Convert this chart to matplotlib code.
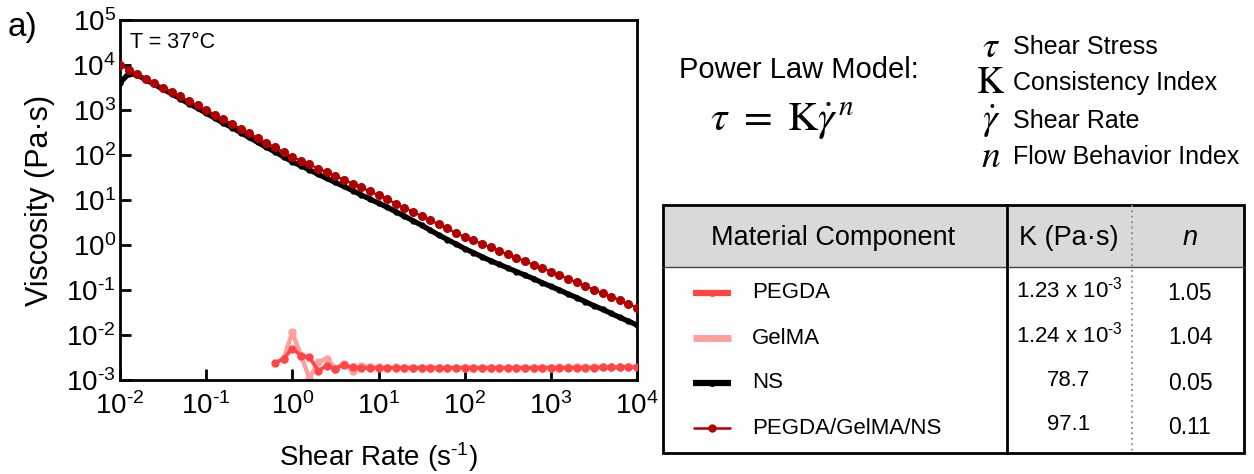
import numpy as np
import matplotlib
matplotlib.use('Agg')
import matplotlib.pyplot as plt
from matplotlib.patches import Rectangle
from matplotlib.ticker import NullLocator

plt.rcParams['font.family'] = ['Liberation Sans', 'DejaVu Sans']
plt.rcParams['mathtext.fontset'] = 'custom'
plt.rcParams['mathtext.rm'] = 'Liberation Sans'
plt.rcParams['mathtext.it'] = 'Liberation Sans:italic'
plt.rcParams['mathtext.bf'] = 'Liberation Sans:bold'

# ---------------- data ----------------
shear_rate = [0.01, 0.0126, 0.0158, 0.02, 0.0251, 0.0316, 0.0398, 0.0501, 0.0631, 0.0794,
              0.1, 0.126, 0.158, 0.2, 0.251, 0.316, 0.398, 0.501, 0.631, 0.794,
              1.0, 1.26, 1.58, 2.0, 2.51, 3.16, 3.98, 5.01, 6.31, 7.94,
              10.0, 12.6, 15.8, 20.0, 25.1, 31.6, 39.8, 50.1, 63.1, 79.4,
              100.0, 126, 158, 200, 251, 316, 398, 501, 631, 794,
              1000, 1260, 1580, 2000, 2510, 3160, 3980, 5010, 6310, 7940, 10000]

ns_visc = [3980, 6460, 6030, 4680, 3720, 2880, 2290, 1780, 1380, 1100,
           851, 661, 513, 407, 316, 245, 191, 148, 117, 91.2,
           70.8, 57.5, 46.8, 37.2, 30.2, 24.5, 20.0, 16.2, 12.9, 10.5,
           8.51, 6.92, 5.50, 4.37, 3.47, 2.75, 2.14, 1.66, 1.32, 1.05,
           0.832, 0.676, 0.550, 0.447, 0.372, 0.309, 0.257, 0.214, 0.178, 0.145,
           0.120, 0.100, 0.0813, 0.0676, 0.0550, 0.0447, 0.0372, 0.0302, 0.0245, 0.0204, 0.0166]

comp_visc = [10000, 7940, 6310, 5010, 3980, 3160, 2510, 2000, 1580, 1260,
             1000, 794, 617, 490, 380, 302, 240, 186, 148, 115,
             91.2, 74.1, 61.7, 50.1, 41.7, 33.9, 28.2, 22.9, 19.1, 15.5,
             12.9, 10.5, 8.32, 6.76, 5.50, 4.37, 3.55, 2.88, 2.34, 1.86,
             1.51, 1.26, 1.07, 0.891, 0.741, 0.617, 0.525, 0.437, 0.363, 0.309,
             0.257, 0.214, 0.178, 0.148, 0.123, 0.102, 0.0851, 0.0708, 0.0589, 0.0490, 0.0407]

pegda_rate = shear_rate[18:]
pegda_visc = [2.4e-3, 3.0e-3, 5.0e-3, 3.5e-3, 3.2e-3, 1.6e-3, 2.1e-3, 1.8e-3, 2.2e-3, 1.9e-3,
              1.86e-3, 1.85e-3, 1.86e-3, 1.85e-3, 1.86e-3, 1.85e-3, 1.85e-3, 1.86e-3, 1.85e-3, 1.85e-3,
              1.85e-3, 1.86e-3, 1.85e-3, 1.85e-3, 1.85e-3, 1.86e-3, 1.85e-3, 1.85e-3, 1.86e-3, 1.85e-3,
              1.86e-3, 1.86e-3, 1.87e-3, 1.87e-3, 1.88e-3, 1.88e-3, 1.88e-3, 1.89e-3, 1.90e-3, 1.90e-3,
              1.91e-3, 1.92e-3, 1.93e-3]

gelma_rate = shear_rate[19:]
gelma_visc = [3.0e-3, 1.15e-2, 3.5e-3, 1.1e-3, 2.5e-3, 3.0e-3, 1.8e-3, 2.3e-3, 1.6e-3, 2.1e-3,
              1.9e-3, 1.9e-3, 1.88e-3, 1.9e-3, 1.88e-3, 1.88e-3, 1.87e-3, 1.87e-3, 1.87e-3, 1.87e-3,
              1.87e-3, 1.87e-3, 1.87e-3, 1.87e-3, 1.87e-3, 1.87e-3, 1.88e-3, 1.88e-3, 1.88e-3, 1.88e-3,
              1.89e-3, 1.89e-3, 1.90e-3, 1.90e-3, 1.91e-3, 1.91e-3, 1.92e-3, 1.93e-3, 1.93e-3, 1.94e-3,
              1.95e-3, 1.95e-3]

x_ticks = [1e-2, 1e-1, 1e0, 1e1, 1e2, 1e3, 1e4]
x_ticklabels = [r'$10^{\text{-}2}$', r'$10^{\text{-}1}$', r'$10^{0}$', r'$10^{1}$',
                r'$10^{2}$', r'$10^{3}$', r'$10^{4}$']
y_ticks = [1e-3, 1e-2, 1e-1, 1e0, 1e1, 1e2, 1e3, 1e4, 1e5]
y_ticklabels = [r'$10^{\text{-}3}$', r'$10^{\text{-}2}$', r'$10^{\text{-}1}$', r'$10^{0}$',
                r'$10^{1}$', r'$10^{2}$', r'$10^{3}$', r'$10^{4}$', r'$10^{5}$']

materials = ['PEGDA', 'GelMA', 'NS', 'PEGDA/GelMA/NS']
k_values = [r'1.23 x 10$^{\text{-}3}$', r'1.24 x 10$^{\text{-}3}$', '78.7', '97.1']
n_values = ['1.05', '1.04', '0.05', '0.11']

c_pegda = '#ff4545'
c_gelma = '#ff9f9f'
c_ns = '#000000'
c_comp = '#b00000'

# ---------------- figure ----------------
W, H = 1254, 474
fig = plt.figure(figsize=(W / 100, H / 100), dpi=100)
ax = fig.add_axes([120 / W, 1 - 380 / H, 517 / W, 360 / H])

ax.plot(gelma_rate, gelma_visc, '-o', color=c_gelma, lw=3.2, ms=5, mec=c_gelma, zorder=2)
ax.plot(pegda_rate, pegda_visc, '-o', color=c_pegda, lw=2.6, ms=5, mec=c_pegda, zorder=3)
ax.plot(shear_rate, ns_visc, '-o', color=c_ns, lw=3.8, ms=3.5, zorder=4)
ax.plot(shear_rate, comp_visc, '-o', color=c_comp, lw=1.6, ms=5.5, mec=c_comp, zorder=5)

ax.set_xscale('log')
ax.set_yscale('log')
ax.set_xlim(1e-2, 1e4)
ax.set_ylim(1e-3, 1e5)
ax.set_xticks(x_ticks)
ax.set_xticklabels(x_ticklabels)
ax.set_yticks(y_ticks)
ax.set_yticklabels(y_ticklabels)
ax.xaxis.set_minor_locator(NullLocator())
ax.yaxis.set_minor_locator(NullLocator())
ax.tick_params(direction='in', length=8, width=2, labelsize=20)
ax.tick_params(axis='x', pad=8.5)
ax.tick_params(axis='y', pad=3)
for s in ax.spines.values():
    s.set_linewidth(2)
ax.set_xlabel(r'Shear Rate (s$^{\text{-}1}$)', fontsize=20, labelpad=15)
ax.set_ylabel('Viscosity (Pa·s)', fontsize=22, labelpad=8)

# ---------------- overlay (text + table) ----------------
ov = fig.add_axes([0, 0, 1, 1], zorder=10)
ov.set_xlim(0, W)
ov.set_ylim(H, 0)
ov.axis('off')
ov.patch.set_alpha(0)

ov.text(8, 27, 'a)', fontsize=24, ha='left', va='center')
ov.text(130, 42, 'T = 37°C', fontsize=15.5, ha='left', va='center')

ov.text(679, 70, 'Power Law Model:', fontsize=21, ha='left', va='center')
ov.text(710, 121, r'$\tau\ =\ \mathrm{K}\dot{\gamma}^{\,n}$', fontsize=30,
        math_fontfamily='stix', ha='left', va='center')

sym = [r'$\tau$', r'$\mathrm{K}$', r'$\dot{\gamma}$', r'$n$']
desc = ['Shear Stress', 'Consistency Index', 'Shear Rate', 'Flow Behavior Index']
sym_y = [47, 83, 121, 157]
for s_, d_, y_ in zip(sym, desc, sym_y):
    ov.text(991, y_, s_, fontsize=27, math_fontfamily='stix', ha='center', va='center')
    ov.text(1013, y_, d_, fontsize=18, ha='left', va='center')

# table
tx0, tx1, ty0, ty1 = 663, 1244, 205, 453
ov.add_patch(Rectangle((tx0, ty0), tx1 - tx0, 267 - ty0, facecolor='#d9d9d9', edgecolor='none'))
ov.plot([tx0, tx1], [267, 267], color='#444444', lw=1.0)
ov.plot([1007, 1007], [ty0, ty1], color='black', lw=2)
ov.plot([1132, 1132], [ty0, ty1], color='#888888', lw=1.3, ls=(0, (1, 2)))
ov.add_patch(Rectangle((tx0, ty0), tx1 - tx0, ty1 - ty0, facecolor='none', edgecolor='black', lw=2))

ov.text(833, 238, 'Material Component', fontsize=19.5, ha='center', va='center')
ov.text(1069, 238, 'K (Pa·s)', fontsize=19.5, ha='center', va='center')
ov.text(1190, 238, 'n', fontsize=19.5, style='italic', ha='center', va='center')

row_y = [293, 338, 383, 428]
k_y = [290, 335, 380, 424]
styles = [(c_pegda, 4.5, 4), (c_gelma, 5, 4), (c_ns, 4.5, 4), (c_comp, 1.8, 5)]
for name, kv, nv, ry, ky, (col, lw, ms) in zip(materials, k_values, n_values, row_y, k_y, styles):
    ov.plot([693, 731], [ry, ry], color=col, lw=lw, solid_capstyle='butt')
    ov.plot([712], [ry], 'o', color=col, ms=ms)
    ov.text(752, ry, name, fontsize=16, ha='left', va='center')
    ov.text(1069, ky, kv, fontsize=16, ha='center', va='center')
    ov.text(1190, ry, nv, fontsize=16.5, ha='center', va='center')

fig.savefig('out.png', dpi=100)
